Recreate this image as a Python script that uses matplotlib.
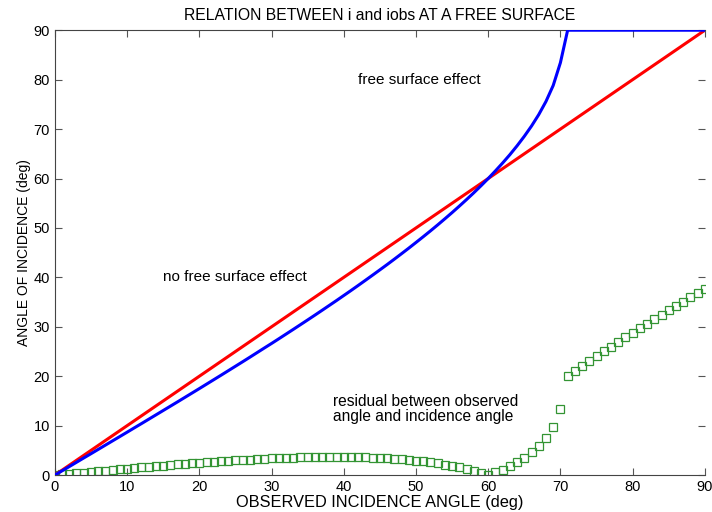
#!/bin/env python3

"""
Relation between incidence angle i and observed angle iobs at a free surface
"""

import matplotlib
matplotlib.use("Agg")
import matplotlib.pyplot as plt

plt.rcParams["font.family"] = ["Liberation Sans", "DejaVu Sans"]

# observed incidence angle (deg), 1 deg steps
iobs = list(range(0, 91))

# true angle of incidence (deg)
inc_angle = [
    0.0, 0.87, 1.73, 2.60, 3.47, 4.33, 5.20, 6.07, 6.94, 7.81,
    8.68, 9.56, 10.43, 11.31, 12.19, 13.07, 13.95, 14.83, 15.72, 16.61,
    17.50, 18.40, 19.30, 20.20, 21.11, 22.02, 22.93, 23.85, 24.78, 25.71,
    26.63, 27.57, 28.52, 29.47, 30.43, 31.39, 32.36, 33.34, 34.33, 35.32,
    36.33, 37.34, 38.37, 39.41, 40.46, 41.52, 42.59, 43.68, 44.79, 45.91,
    47.06, 48.22, 49.40, 50.61, 51.85, 53.11, 54.41, 55.74, 57.11, 58.53,
    60.00, 61.54, 63.14, 64.82, 66.62, 68.54, 70.62, 72.93, 75.59, 78.82,
    83.44, 90.0, 90.0, 90.0, 90.0, 90.0, 90.0, 90.0, 90.0, 90.0,
    90.0, 90.0, 90.0, 90.0, 90.0, 90.0, 90.0, 90.0, 90.0, 90.0,
    90.0,
]

# residual between observed angle and incidence angle (deg), green squares
residual = [
    0.0, 0.13, 0.27, 0.40, 0.53, 0.67, 0.80, 0.93, 1.06, 1.19,
    1.32, 1.44, 1.57, 1.69, 1.81, 1.93, 2.05, 2.17, 2.28, 2.39,
    2.50, 2.60, 2.70, 2.80, 2.89, 2.98, 3.07, 3.15, 3.22, 3.29,
    3.37, 3.43, 3.48, 3.53, 3.57, 3.61, 3.64, 3.66, 3.67, 3.68,
    3.67, 3.66, 3.63, 3.59, 3.54, 3.48, 3.41, 3.32, 3.21, 3.09,
    2.95, 2.78, 2.60, 2.39, 2.15, 1.89, 1.59, 1.26, 0.89, 0.47,
    0.0, 0.54, 1.14, 1.82, 2.62, 3.54, 4.62, 5.93, 7.59, 9.82,
    13.44, 19.98, 21.03, 22.06, 23.07, 24.06, 25.04, 26.00, 26.95, 27.89,
    28.82, 29.74, 30.65, 31.55, 32.45, 33.34, 34.23, 35.11, 35.99, 36.86,
    37.73,
]

# no free surface effect: i = iobs
ref_x = [0, 90]
ref_y = [0, 90]

fig = plt.figure(figsize=(7.12, 5.12), dpi=100)
ax = fig.add_axes([0.077, 0.072, 0.913, 0.869])

ax.plot(ref_x, ref_y, color="#ff0000", linewidth=2.2, zorder=3)
ax.plot(iobs, inc_angle, color="#0000ff", linewidth=2.2, zorder=4)
ax.plot(iobs, residual, linestyle="none", marker="s", markersize=6,
        markerfacecolor="none", markeredgecolor="#339433", markeredgewidth=0.9,
        zorder=2)

ax.set_xlim(0, 90)
ax.set_ylim(0, 90)
ax.set_xticks(range(0, 91, 10))
ax.set_yticks(range(0, 91, 10))
ax.tick_params(direction="in", length=5, width=0.8, top=True, right=True,
               labelsize=10.5, color="#555555")
for side in ["left", "bottom", "top"]:
    ax.spines[side].set_color("#444444")
    ax.spines[side].set_linewidth(0.8)
ax.spines["right"].set_visible(False)

ax.set_title("RELATION BETWEEN i and iobs AT A FREE SURFACE", fontsize=11.3, pad=7)
ax.set_xlabel("OBSERVED INCIDENCE ANGLE (deg)", fontsize=11.8, labelpad=1)
ax.set_ylabel("ANGLE OF INCIDENCE (deg)", fontsize=10, labelpad=2)

ax.text(42, 80, "free surface effect", fontsize=11, va="center")
ax.text(15, 40, "no free surface effect", fontsize=11, va="center")
ax.text(38.5, 13.3, "residual between observed\nangle and incidence angle",
        fontsize=11.2, va="center", linespacing=1.0)

plt.savefig("out.png", dpi=100)
